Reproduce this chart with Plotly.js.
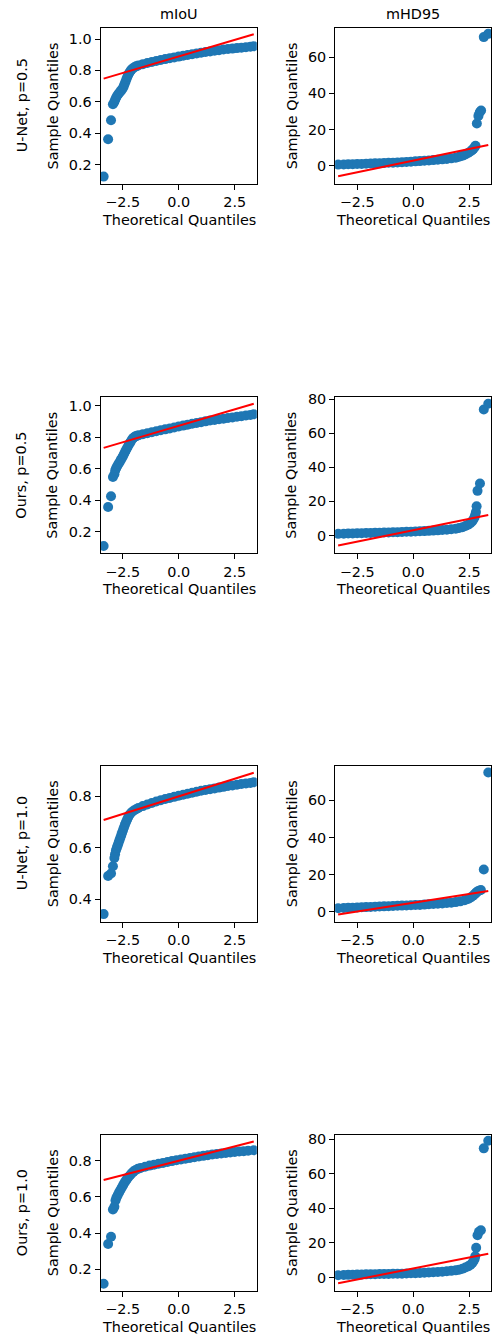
<!DOCTYPE html>
<html><head><meta charset="utf-8">
<script src="https://cdn.plot.ly/plotly-3.0.1.min.js"></script>
<style>html,body{margin:0;padding:0;background:#fff}</style>
</head><body><div id="chart" style="width:497px;height:1336px"></div>
<script>
const rowLabels = ['U-Net, p=0.5', 'Ours, p=0.5', 'U-Net, p=1.0', 'Ours, p=1.0'];
const colTitles = ['mIoU', 'mHD95'];
const xTickVals = [-2.5, 0, 2.5];
const xTickText = ['\u22122.5', '0.0', '2.5'];
const iouTicks1 = [0.2, 0.4, 0.6, 0.8, 1.0];
const iouTicks3 = [0.4, 0.6, 0.8];
const iouTicks4 = [0.2, 0.4, 0.6, 0.8];
const hdTicks60 = [0, 20, 40, 60];
const hdTicks80 = [0, 20, 40, 60, 80];

// theoretical quantiles (x) and sample quantiles (y)
const unet05_iou_q = [-3.35,-3.15,-3.02,-2.935,-2.87,-2.83,-2.79,-2.74,-2.69,-2.64,-2.59,-2.54,-2.49,-2.45,-2.41,-2.37,-2.33,-2.29,-2.25,-2.21,-2.16,-2.11,-2.05,-1.98,-1.9,-1.8,-1.6,-1.4,-1.2,-1.0,-0.8,-0.6,-0.4,-0.2,0,0.2,0.4,0.6,0.8,1.0,1.2,1.4,1.6,1.8,2.0,2.2,2.4,2.6,2.8,3.0,3.2,3.35];
const unet05_iou_v = [0.124,0.362,0.483,0.585,0.60,0.615,0.628,0.64,0.65,0.66,0.668,0.677,0.688,0.70,0.715,0.73,0.745,0.76,0.772,0.784,0.795,0.805,0.813,0.82,0.826,0.832,0.84,0.847,0.854,0.86,0.866,0.872,0.877,0.883,0.888,0.893,0.898,0.903,0.908,0.913,0.917,0.921,0.925,0.929,0.933,0.936,0.939,0.942,0.945,0.948,0.951,0.954];

const unet05_hd_q = [-3.35,-3.1,-2.9,-2.7,-2.5,-2.3,-2.1,-1.9,-1.7,-1.5,-1.3,-1.1,-0.9,-0.7,-0.5,-0.3,-0.1,0.1,0.3,0.5,0.7,0.9,1.1,1.3,1.5,1.7,1.9,2.05,2.2,2.33,2.45,2.55,2.63,2.69,2.74,2.78,2.84,2.91,2.97,3.03,3.15,3.35];
const unet05_hd_v = [0.6,0.7,0.8,0.85,0.95,1.0,1.1,1.2,1.3,1.4,1.5,1.6,1.7,1.8,1.95,2.1,2.25,2.4,2.55,2.7,2.9,3.1,3.3,3.5,3.75,4.05,4.45,4.9,5.5,6.2,7.0,7.8,8.6,9.4,10.2,11.0,23.3,27.5,29.5,30.5,71.0,72.8];

const ours05_iou_q = [-3.35,-3.15,-3.02,-2.935,-2.87,-2.83,-2.79,-2.74,-2.69,-2.64,-2.59,-2.54,-2.49,-2.44,-2.39,-2.34,-2.29,-2.24,-2.19,-2.14,-2.08,-2.02,-1.95,-1.87,-1.78,-1.6,-1.4,-1.2,-1.0,-0.8,-0.6,-0.4,-0.2,0,0.2,0.4,0.6,0.8,1.0,1.2,1.4,1.6,1.8,2.0,2.2,2.4,2.6,2.8,3.0,3.2,3.35];
const ours05_iou_v = [0.108,0.357,0.425,0.548,0.565,0.59,0.605,0.618,0.63,0.642,0.655,0.667,0.68,0.694,0.708,0.722,0.736,0.75,0.762,0.773,0.788,0.798,0.805,0.81,0.814,0.82,0.826,0.833,0.839,0.845,0.851,0.857,0.863,0.869,0.875,0.881,0.887,0.892,0.897,0.902,0.907,0.911,0.915,0.919,0.923,0.927,0.931,0.935,0.939,0.943,0.947];

const ours05_hd_q = [-3.35,-3.1,-2.9,-2.7,-2.5,-2.3,-2.1,-1.9,-1.7,-1.5,-1.3,-1.1,-0.9,-0.7,-0.5,-0.3,-0.1,0.1,0.3,0.5,0.7,0.9,1.1,1.3,1.5,1.7,1.9,2.05,2.2,2.33,2.45,2.55,2.63,2.69,2.74,2.77,2.80,2.83,2.87,2.98,3.15,3.35];
const ours05_hd_v = [1.0,1.1,1.2,1.25,1.35,1.4,1.5,1.55,1.6,1.7,1.75,1.85,1.9,2.0,2.1,2.2,2.3,2.4,2.5,2.6,2.75,2.9,3.05,3.25,3.45,3.7,4.0,4.4,4.9,5.6,6.4,7.3,8.3,9.5,10.8,12.2,13.8,17.2,26.2,30.5,73.9,77.2];

const unet10_iou_q = [-3.35,-3.15,-3.02,-2.935,-2.87,-2.84,-2.80,-2.76,-2.72,-2.68,-2.64,-2.60,-2.56,-2.52,-2.48,-2.44,-2.40,-2.35,-2.30,-2.25,-2.18,-2.1,-2.0,-1.9,-1.8,-1.6,-1.4,-1.2,-1.0,-0.8,-0.6,-0.4,-0.2,0,0.2,0.4,0.6,0.8,1.0,1.2,1.4,1.6,1.8,2.0,2.2,2.4,2.6,2.8,3.0,3.2,3.35];
const unet10_iou_v = [0.342,0.49,0.50,0.528,0.56,0.575,0.59,0.60,0.61,0.62,0.63,0.64,0.65,0.66,0.67,0.68,0.69,0.70,0.71,0.72,0.73,0.738,0.745,0.75,0.755,0.762,0.768,0.774,0.78,0.785,0.79,0.794,0.798,0.802,0.806,0.81,0.814,0.818,0.822,0.825,0.828,0.831,0.834,0.837,0.84,0.842,0.845,0.848,0.85,0.852,0.855];

const unet10_hd_q = [-3.35,-3.1,-2.9,-2.7,-2.5,-2.3,-2.1,-1.9,-1.7,-1.5,-1.3,-1.1,-0.9,-0.7,-0.5,-0.3,-0.1,0.1,0.3,0.5,0.7,0.9,1.1,1.3,1.5,1.7,1.9,2.1,2.3,2.45,2.57,2.67,2.75,2.81,2.87,2.935,3.02,3.15,3.35];
const unet10_hd_v = [2.0,2.1,2.2,2.3,2.4,2.5,2.6,2.7,2.8,2.9,3.0,3.1,3.2,3.3,3.4,3.5,3.6,3.7,3.8,3.95,4.1,4.25,4.4,4.6,4.8,5.0,5.3,5.7,6.3,7.0,7.8,8.7,9.6,10.4,11.0,11.4,11.8,22.8,75.0];

const ours10_iou_q = [-3.35,-3.15,-3.02,-2.935,-2.87,-2.82,-2.78,-2.72,-2.66,-2.60,-2.54,-2.48,-2.42,-2.36,-2.30,-2.24,-2.17,-2.10,-2.02,-1.93,-1.82,-1.7,-1.5,-1.3,-1.1,-0.9,-0.7,-0.5,-0.3,-0.1,0.1,0.3,0.5,0.7,0.9,1.1,1.3,1.5,1.7,1.9,2.1,2.3,2.5,2.7,2.9,3.1,3.35];
const ours10_iou_v = [0.12,0.34,0.38,0.53,0.545,0.58,0.595,0.61,0.625,0.638,0.652,0.665,0.678,0.69,0.70,0.71,0.72,0.73,0.74,0.748,0.755,0.76,0.767,0.773,0.778,0.783,0.788,0.793,0.798,0.803,0.807,0.811,0.815,0.819,0.823,0.827,0.83,0.834,0.837,0.84,0.843,0.846,0.848,0.851,0.853,0.855,0.858];

const ours10_hd_q = [-3.35,-3.1,-2.9,-2.7,-2.5,-2.3,-2.1,-1.9,-1.7,-1.5,-1.3,-1.1,-0.9,-0.7,-0.5,-0.3,-0.1,0.1,0.3,0.5,0.7,0.9,1.1,1.3,1.5,1.7,1.9,2.05,2.2,2.33,2.45,2.55,2.63,2.69,2.74,2.77,2.81,2.87,2.935,3.02,3.15,3.35];
const ours10_hd_v = [1.4,1.5,1.6,1.7,1.75,1.8,1.9,1.95,2.0,2.05,2.1,2.15,2.2,2.25,2.3,2.4,2.5,2.6,2.7,2.8,2.95,3.1,3.25,3.45,3.65,3.9,4.2,4.6,5.1,5.8,6.5,7.3,8.3,9.5,10.8,12.3,17.2,24.5,26.5,27.3,74.6,79.0];

// reference lines (end points at the extreme theoretical quantiles)
const lineQ = [-3.35, 3.35];
const unet05_iou_line = [0.748, 1.03];
const unet05_hd_line = [-5.8, 11.4];
const ours05_iou_line = [0.733, 1.014];
const ours05_hd_line = [-5.8, 12.0];
const unet10_iou_line = [0.708, 0.892];
const unet10_hd_line = [-1.4, 11.3];
const ours10_iou_line = [0.694, 0.906];
const ours10_hd_line = [-3.2, 13.8];

const panels = [
  {q: unet05_iou_q, v: unet05_iou_v, l: unet05_iou_line, range: [0.077, 1.072], ticks: iouTicks1, dec: 1},
  {q: unet05_hd_q, v: unet05_hd_v, l: unet05_hd_line, range: [-10.1, 76.2], ticks: hdTicks60, dec: 0},
  {q: ours05_iou_q, v: ours05_iou_v, l: ours05_iou_line, range: [0.062, 1.057], ticks: iouTicks1, dec: 1},
  {q: ours05_hd_q, v: ours05_hd_v, l: ours05_hd_line, range: [-10.4, 81.2], ticks: hdTicks80, dec: 0},
  {q: unet10_iou_q, v: unet10_iou_v, l: unet10_iou_line, range: [0.312, 0.920], ticks: iouTicks3, dec: 1},
  {q: unet10_hd_q, v: unet10_hd_v, l: unet10_hd_line, range: [-5.3, 78.75], ticks: hdTicks60, dec: 0},
  {q: ours10_iou_q, v: ours10_iou_v, l: ours10_iou_line, range: [0.081, 0.945], ticks: iouTicks4, dec: 1},
  {q: ours10_hd_q, v: ours10_hd_v, l: ours10_hd_line, range: [-7.6, 82.6], ticks: hdTicks80, dec: 0}
];

const W = 497, H = 1336;
const colX = [[100.6, 256.8], [335.1, 491.3]];
const rowTop = [27.7, 397.0, 765.5, 1134.5];
const boxH = 156.3;
const FONT = 'DejaVu Sans, Liberation Sans, sans-serif';
const FS = 14.4;

const traces = [];
const layout = {
  width: W, height: H, margin: {l: 0, r: 0, t: 0, b: 0},
  paper_bgcolor: '#fff', plot_bgcolor: '#fff', showlegend: false,
  font: {family: FONT, size: FS, color: '#000'},
  annotations: []
};

panels.forEach((p, i) => {
  const r = Math.floor(i / 2), c = i % 2;
  const sfx = i === 0 ? '' : String(i + 1);
  const xa = 'x' + sfx, ya = 'y' + sfx;
  traces.push({x: p.q, y: p.v, xaxis: xa, yaxis: ya, type: 'scatter', mode: 'markers',
    marker: {color: '#1f77b4', size: 10, line: {width: 0}}, hoverinfo: 'skip'});
  traces.push({x: lineQ, y: p.l, xaxis: xa, yaxis: ya, type: 'scatter', mode: 'lines',
    line: {color: '#ff0000', width: 2}, hoverinfo: 'skip'});
  const top = rowTop[r], bot = top + boxH;
  const common = {showgrid: false, zeroline: false, showline: true, mirror: true,
    linecolor: '#000', linewidth: 1, ticks: 'outside', ticklen: 5, tickwidth: 1, tickcolor: '#000',
    tickfont: {family: FONT, size: FS, color: '#000'}, fixedrange: true};
  layout['xaxis' + sfx] = Object.assign({}, common, {
    domain: [colX[c][0] / W, colX[c][1] / W], range: [-3.485, 3.485], anchor: ya,
    tickmode: 'array', tickvals: xTickVals, ticktext: xTickText});
  layout['yaxis' + sfx] = Object.assign({}, common, {
    domain: [1 - bot / H, 1 - top / H], range: p.range, anchor: xa,
    tickmode: 'array', tickvals: p.ticks, ticktext: p.ticks.map(t => t.toFixed(p.dec))});
  layout.annotations.push({xref: 'paper', yref: 'paper', x: (colX[c][0] + colX[c][1]) / 2 / W,
    y: 1 - (bot + 36) / H, text: 'Theoretical Quantiles', showarrow: false,
    xanchor: 'center', yanchor: 'middle', font: {family: FONT, size: FS, color: '#000'}});
  layout.annotations.push({xref: 'paper', yref: 'paper', x: (c === 0 ? 52.6 : 291.5) / W,
    y: 1 - (top + bot) / 2 / H, text: 'Sample Quantiles', showarrow: false, textangle: -90,
    xanchor: 'center', yanchor: 'middle', font: {family: FONT, size: FS, color: '#000'}});
});

rowLabels.forEach((t, r) => {
  const top = rowTop[r], bot = top + boxH;
  layout.annotations.push({xref: 'paper', yref: 'paper', x: 21.5 / W, y: 1 - (top + bot) / 2 / H,
    text: t, showarrow: false, textangle: -90, xanchor: 'center', yanchor: 'middle',
    font: {family: FONT, size: FS, color: '#000'}});
});
colTitles.forEach((t, c) => {
  layout.annotations.push({xref: 'paper', yref: 'paper', x: (colX[c][0] + colX[c][1]) / 2 / W,
    y: 1 - 13.5 / H, text: t, showarrow: false, xanchor: 'center', yanchor: 'middle',
    font: {family: FONT, size: FS, color: '#000'}});
});

Plotly.newPlot('chart', traces, layout, {displayModeBar: false, staticPlot: true});
</script>
</body></html>
